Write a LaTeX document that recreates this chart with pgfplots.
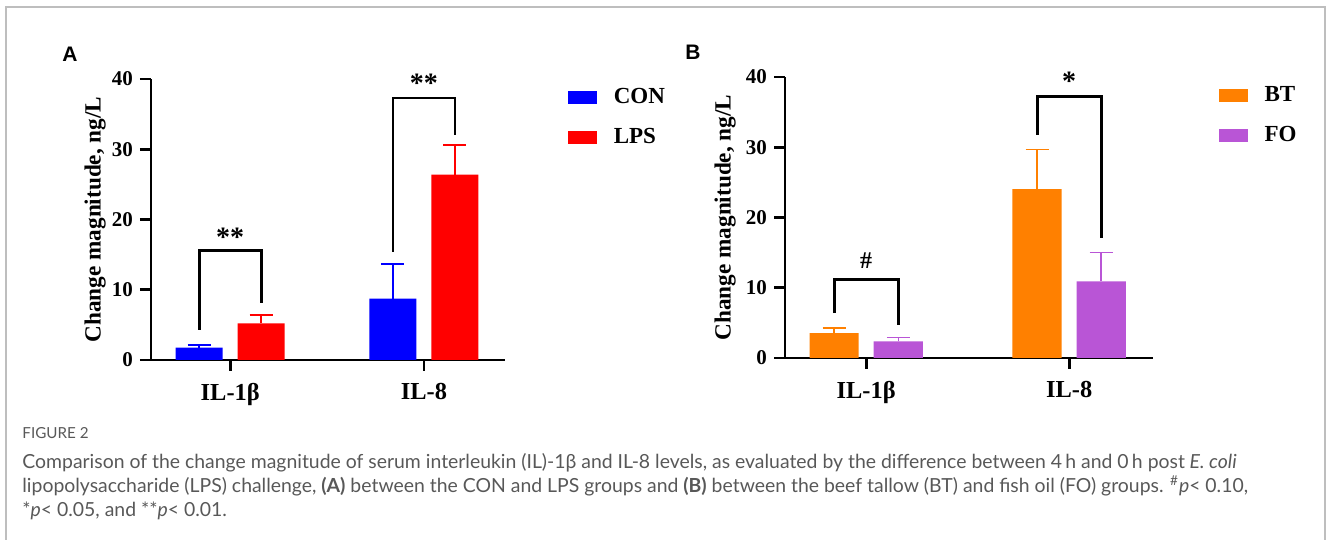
\documentclass[border=0pt]{standalone}
\usepackage{pgfplots}
\pgfplotsset{compat=1.18}
\usepackage{fontspec}
\setmainfont{Liberation Serif}
\newfontfamily\panelfont{Liberation Sans}
\newfontfamily\capfont{Lato}

\definecolor{conblue}{RGB}{0,0,255}
\definecolor{lpsred}{RGB}{255,0,0}
\definecolor{btorange}{RGB}{255,128,0}
\definecolor{fopurple}{RGB}{185,85,214}
\definecolor{captext}{RGB}{88,88,88}
\definecolor{frameg}{RGB}{190,190,190}

\tikzset{bracket/.style={black, line width=1.4pt}}
\pgfplotsset{
  panel/.style={
    scale only axis,
    height=140.5pt,
    axis x line*=bottom, axis y line*=left,
    axis line style={-, line width=1.4pt},
    ymin=0, ymax=40, ytick={0,10,20,30,40},
    xtick={0,1}, xticklabels={IL-1β,IL-8},
    minor tick num=0,
    tick align=outside, major tick length=5.5pt,
    tick style={black, line width=1.4pt},
    /pgf/number format/assume math mode=true,
    yticklabel style={font=\fontsize{10.5}{12}\selectfont\bfseries},
    xticklabel style={font=\fontsize{12.2}{14}\selectfont\bfseries, yshift=-2.5pt},
    ylabel={Change magnitude, ng/L},
    ylabel style={font=\fontsize{11.6}{13}\selectfont\bfseries, anchor=center},
    ybar, bar width=0.2425,
    clip=false,
    legend style={draw=none, fill=none, anchor=west, inner sep=0pt,
      row sep=11pt, column sep=8.5pt,
      font=\fontsize{11.5}{13}\selectfont\bfseries,
      nodes={inner sep=0pt}, cells={anchor=west}},
    legend image code/.code={\fill[##1] (0pt,-3.25pt) rectangle (14.5pt,3.25pt);},
  },
}

\begin{document}
\begin{tikzpicture}
\path[use as bounding box] (0,0) rectangle (665pt,270pt);
\draw[frameg, line width=0.8pt] (3pt,0) -- (3pt,266.5pt) -- (662.5pt,266.5pt) -- (662.5pt,0);

\node[font=\panelfont\bfseries\fontsize{10.5}{12}\selectfont] at (35pt,243pt) {A};
\node[font=\panelfont\bfseries\fontsize{10.5}{12}\selectfont] at (346.5pt,244pt) {B};

% panel A
\begin{axis}[panel, at={(75.5pt,90pt)}, anchor=south west, width=176.75pt,
  xmin=-0.409, xmax=1.416,
  ylabel style={at={(axis description cs:-0.158,0.5)}},
  legend style={at={(1.178,0.863)}}]
\addplot[fill=conblue, draw=none, bar shift=-0.16,
  error bars/.cd, y dir=plus, y explicit,
  error bar style={conblue, line width=0.75pt},
  error mark options={rotate=90, conblue, line width=0.75pt, mark size=5.75pt}]
  coordinates {(0,1.75) +- (0,0.35) (1,8.75) +- (0,4.95)};
\addlegendentry{CON}
\addplot[fill=lpsred, draw=none, bar shift=0.16,
  error bars/.cd, y dir=plus, y explicit,
  error bar style={lpsred, line width=0.75pt},
  error mark options={rotate=90, lpsred, line width=0.75pt, mark size=5.75pt}]
  coordinates {(0,5.2) +- (0,1.2) (1,26.4) +- (0,4.2)};
\addlegendentry{LPS}
\draw[bracket] (axis cs:-0.16,4.27) -- (axis cs:-0.16,15.6) -- (axis cs:0.16,15.6) -- (axis cs:0.16,8.07);
\draw[bracket] (axis cs:0.84,15.4) -- (axis cs:0.84,37.3) -- (axis cs:1.16,37.3) -- (axis cs:1.16,32.0);
\node[font=\fontsize{14}{14}\selectfont\bfseries, anchor=base, yshift=-6.7pt] at (axis cs:0,18) {**};
\node[font=\fontsize{14}{14}\selectfont\bfseries, anchor=base, yshift=-6.7pt] at (axis cs:1,40) {**};
\end{axis}

% panel B
\begin{axis}[panel, at={(392.5pt,91pt)}, anchor=south west, width=184pt,
  xmin=-0.40, xmax=1.413,
  ylabel style={at={(axis description cs:-0.163,0.5)}},
  legend style={at={(1.177,0.863)}}]
\addplot[fill=btorange, draw=none, bar shift=-0.158,
  error bars/.cd, y dir=plus, y explicit,
  error bar style={btorange, line width=0.75pt},
  error mark options={rotate=90, btorange, line width=0.75pt, mark size=5.75pt}]
  coordinates {(0,3.55) +- (0,0.7) (1,24.05) +- (0,5.65)};
\addlegendentry{BT}
\addplot[fill=fopurple, draw=none, bar shift=0.158,
  error bars/.cd, y dir=plus, y explicit,
  error bar style={fopurple, line width=0.75pt},
  error mark options={rotate=90, fopurple, line width=0.75pt, mark size=5.75pt}]
  coordinates {(0,2.36) +- (0,0.57) (1,10.9) +- (0,4.15)};
\addlegendentry{FO}
\draw[bracket] (axis cs:-0.158,6.4) -- (axis cs:-0.158,11.2) -- (axis cs:0.158,11.2) -- (axis cs:0.158,4.73);
\draw[bracket] (axis cs:0.842,31.8) -- (axis cs:0.842,37.25) -- (axis cs:1.158,37.25) -- (axis cs:1.158,17.05);
\node[font=\fontsize{12}{12}\selectfont\bfseries, anchor=base, yshift=-4.2pt] at (axis cs:0,14) {\#};
\node[font=\fontsize{14}{14}\selectfont\bfseries, anchor=base, yshift=-6.7pt] at (axis cs:1,40) {*};
\end{axis}

% caption
\begin{scope}[every node/.style={anchor=base west, inner sep=0pt, text=captext}]
\node[font=\capfont\fontsize{7.6}{9}\selectfont] at (11pt,50.5pt) {FIGURE 2};
\node[font=\capfont\fontsize{9.7}{12}\selectfont] at (11pt,35.5pt)
  {Comparison of the change magnitude of serum interleukin (IL)-1β and IL-8 levels, as evaluated by the difference between 4\,h and 0\,h post \textit{E. coli}};
\node[font=\capfont\fontsize{9.7}{12}\selectfont] at (11pt,23.5pt)
  {lipopolysaccharide (LPS) challenge, \textbf{(A)} between the CON and LPS groups and \textbf{(B)} between the beef tallow (BT) and fish oil (FO) groups. \textsuperscript{\#}\textit{p}< 0.10,};
\node[font=\capfont\fontsize{9.7}{12}\selectfont] at (11pt,11.5pt)
  {*\textit{p}< 0.05, and **\textit{p}< 0.01.};
\end{scope}
\end{tikzpicture}
\end{document}
